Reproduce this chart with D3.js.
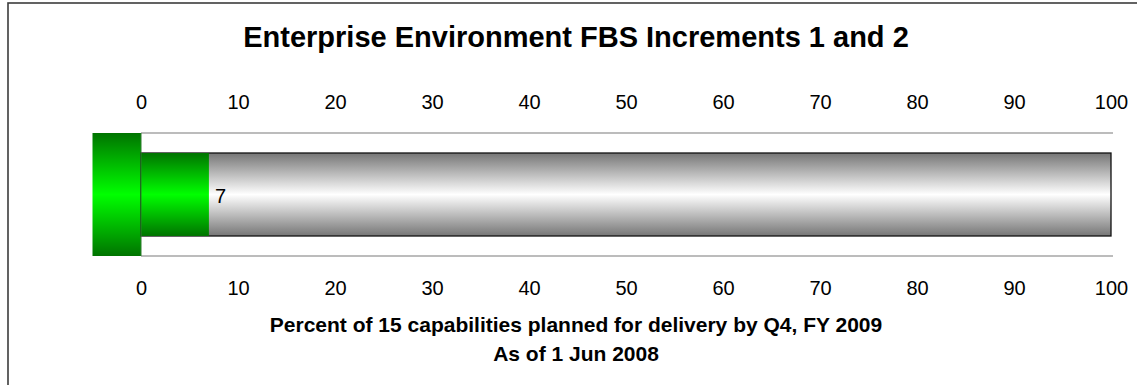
<!DOCTYPE html>
<html>
<head>
<meta charset="utf-8">
<script src="https://cdn.jsdelivr.net/npm/d3@7"></script>
<style>
  body { margin: 0; background: #fff; }
  svg { display: block; font-family: "Liberation Sans", Arial, sans-serif; }
</style>
</head>
<body>
<svg width="1137" height="385"></svg>
<script>
// data
var categories = ['Increments 1 and 2'];
var completed = [7];        // percent delivered
var planned = [100];        // full length of the bar
var tickValues = [0, 10, 20, 30, 40, 50, 60, 70, 80, 90, 100];
var title = 'Enterprise Environment FBS Increments 1 and 2';
var subtitles = ['Percent of 15 capabilities planned for delivery by Q4, FY 2009', 'As of 1 Jun 2008'];

var svg = d3.select('svg');

// outer frame (runs off the right and bottom edges)
svg.append('rect')
   .attr('x', 8).attr('y', 3)
   .attr('width', 1140).attr('height', 400)
   .attr('fill', 'none')
   .attr('stroke', '#3c3c3c')
   .attr('stroke-width', 1.6);

var defs = svg.append('defs');

// vertical gradients: dark - light - dark
function addGradient(id, edge, middle) {
  var g = defs.append('linearGradient')
              .attr('id', id)
              .attr('x1', 0).attr('y1', 0).attr('x2', 0).attr('y2', 1);
  g.append('stop').attr('offset', '0%').attr('stop-color', edge);
  g.append('stop').attr('offset', '50%').attr('stop-color', middle);
  g.append('stop').attr('offset', '100%').attr('stop-color', edge);
}
addGradient('grayGrad', '#767676', '#ffffff');
addGradient('greenGrad', '#007400', '#00ff00');

var xScale = d3.scaleLinear().domain([0, 100]).range([141, 1111]);

// band for the single category, gridlines sit at its edges
var band = d3.scaleBand()
             .domain(categories)
             .range([133, 256])
             .paddingInner(0)
             .paddingOuter(0.241);
var bandTop = 133, bandBottom = 256;

// gridlines at top / bottom of category band
svg.selectAll('.grid')
   .data([bandTop, bandBottom])
   .enter()
   .append('line')
   .attr('class', 'grid')
   .attr('x1', xScale(0)).attr('x2', xScale(100) + 2)
   .attr('y1', function(d) { return d; })
   .attr('y2', function(d) { return d; })
   .attr('stroke', '#a6a6a6')
   .attr('stroke-width', 1.3);

// green block on the left of the axis
svg.append('rect')
   .attr('x', xScale(-5))
   .attr('y', bandTop)
   .attr('width', xScale(0) - xScale(-5))
   .attr('height', bandBottom - bandTop)
   .attr('fill', 'url(#greenGrad)');

// full 100% bar behind
svg.selectAll('.bg')
   .data(planned)
   .enter()
   .append('rect')
   .attr('class', 'bg')
   .attr('x', xScale(0))
   .attr('y', function(d, i) { return band(categories[i]); })
   .attr('width', function(d) { return xScale(d) - xScale(0); })
   .attr('height', band.bandwidth())
   .attr('fill', 'url(#grayGrad)')
   .attr('stroke', '#111')
   .attr('stroke-width', 1.3);

// completed part
svg.selectAll('.done')
   .data(completed)
   .enter()
   .append('rect')
   .attr('class', 'done')
   .attr('x', xScale(0))
   .attr('y', function(d, i) { return band(categories[i]); })
   .attr('width', function(d) { return xScale(d) - xScale(0); })
   .attr('height', band.bandwidth())
   .attr('fill', 'url(#greenGrad)');

// axis line between block and bar
svg.append('line')
   .attr('x1', xScale(0)).attr('x2', xScale(0))
   .attr('y1', bandTop).attr('y2', bandBottom)
   .attr('stroke', '#2f7a2f')
   .attr('stroke-width', 1);

// value label
svg.selectAll('.val')
   .data(completed)
   .enter()
   .append('text')
   .attr('class', 'val')
   .attr('x', function(d) { return xScale(d) + 6; })
   .attr('y', function(d, i) { return band(categories[i]) + band.bandwidth() / 2 + 8; })
   .attr('font-size', 20)
   .attr('fill', '#000')
   .text(function(d) { return d; });

// top and bottom axes, labels only
var topAxis = svg.append('g')
                 .attr('transform', 'translate(0,109)')
                 .call(d3.axisTop(xScale).tickValues(tickValues).tickSize(0).tickPadding(0));
var bottomAxis = svg.append('g')
                    .attr('transform', 'translate(0,295)')
                    .call(d3.axisBottom(xScale).tickValues(tickValues).tickSize(0).tickPadding(0));

[topAxis, bottomAxis].forEach(function(ax) {
  ax.select('.domain').remove();
  ax.selectAll('text')
    .attr('font-size', 20)
    .attr('font-family', '"Liberation Sans", Arial, sans-serif')
    .attr('fill', '#000')
    .attr('dy', 0)
    .attr('y', 0);
});

// title and subtitles
svg.append('text')
   .attr('x', 576).attr('y', 47)
   .attr('text-anchor', 'middle')
   .attr('font-size', 29)
   .attr('font-weight', 'bold')
   .text(title);

svg.selectAll('.sub')
   .data(subtitles)
   .enter()
   .append('text')
   .attr('class', 'sub')
   .attr('x', 576)
   .attr('y', function(d, i) { return 332 + i * 29; })
   .attr('text-anchor', 'middle')
   .attr('font-size', 21)
   .attr('font-weight', 'bold')
   .text(function(d) { return d; });
</script>
</body>
</html>
